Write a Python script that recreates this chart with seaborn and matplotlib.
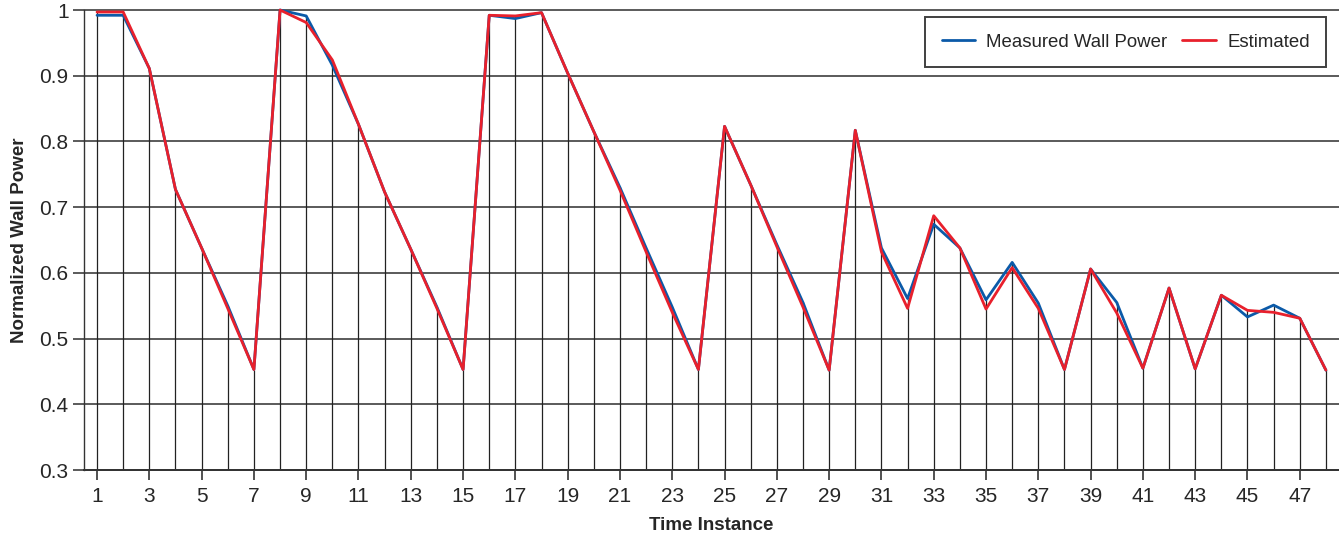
import pandas as pd
import numpy as np
import seaborn as sns
import matplotlib.pyplot as plt
from matplotlib.lines import Line2D

time_instance = list(range(1, 49))
measured = [0.992, 0.992, 0.911, 0.727, 0.638, 0.550, 0.453,
            1.0, 0.991, 0.916, 0.826, 0.723, 0.636, 0.548, 0.453,
            0.992, 0.987, 0.996, 0.904, 0.815, 0.730, 0.638, 0.548, 0.453,
            0.823, 0.734, 0.643, 0.555, 0.452,
            0.817, 0.638, 0.561, 0.674, 0.638, 0.559, 0.616, 0.554, 0.453,
            0.606, 0.555, 0.455, 0.577, 0.454, 0.566, 0.533, 0.551, 0.531, 0.452]
estimated = [0.997, 0.997, 0.911, 0.727, 0.638, 0.546, 0.453,
             1.0, 0.981, 0.924, 0.826, 0.723, 0.636, 0.546, 0.453,
             0.992, 0.991, 0.996, 0.904, 0.815, 0.726, 0.632, 0.540, 0.453,
             0.823, 0.734, 0.640, 0.548, 0.452,
             0.817, 0.632, 0.546, 0.687, 0.638, 0.545, 0.608, 0.546, 0.453,
             0.606, 0.539, 0.455, 0.577, 0.454, 0.566, 0.543, 0.540, 0.531, 0.452]
series_names = ["Measured Wall Power", "Estimated"]
y_ticks = [0.3, 0.4, 0.5, 0.6, 0.7, 0.8, 0.9, 1.0]
y_tick_labels = ["0.3", "0.4", "0.5", "0.6", "0.7", "0.8", "0.9", "1"]

df = pd.DataFrame({
    "t": time_instance * 2,
    "value": measured + estimated,
    "series": [series_names[0]] * 48 + [series_names[1]] * 48,
})

sns.set_style("white")
plt.rcParams['font.family'] = ['Liberation Sans', 'DejaVu Sans']

fig = plt.figure(figsize=(13.39, 5.36), dpi=100)
ax = fig.add_axes([0.0627, 0.123, 0.9373, 0.8583])

# horizontal grid
for yv in y_ticks:
    ax.axhline(yv, color="#5a5a5a", lw=1.4, zorder=1, clip_on=False)

# drop lines from each point down to the bottom
tops = np.maximum(measured, estimated)
ax.vlines(time_instance, 0.3, tops, color="#222222", lw=0.9, zorder=1)

sns.lineplot(data=df, x="t", y="value", hue="series",
             palette={series_names[0]: "#0b5aa8", series_names[1]: "#e8202c"},
             linewidth=2.0, ax=ax, zorder=3, legend=False)
for ln in ax.lines:
    ln.set_clip_on(False)

ax.set_xlim(0.5, 48.5)
ax.set_ylim(0.3, 1.0)
ax.set_xticks(range(1, 48, 2))
ax.set_yticks(y_ticks)
ax.set_yticklabels(y_tick_labels)
ax.tick_params(axis="x", direction="out", length=7, width=1.2, color="#333333",
               labelsize=15, pad=5, bottom=True)
ax.tick_params(axis="y", direction="out", length=8, width=1.4, color="#5a5a5a",
               labelsize=15, pad=3, left=True)
for s in ["top", "right"]:
    ax.spines[s].set_visible(False)
ax.spines["left"].set_color("#333333")
ax.spines["left"].set_linewidth(1.0)
ax.spines["bottom"].set_color("#333333")
ax.spines["bottom"].set_linewidth(1.4)

ax.set_xlabel("Time Instance", fontsize=13.5, fontweight="bold", labelpad=8)
ax.set_ylabel("Normalized Wall Power", fontsize=13.5, fontweight="bold", labelpad=8)

handles = [Line2D([], [], color="#0b5aa8", lw=2.0), Line2D([], [], color="#e8202c", lw=2.0)]
leg = ax.legend(handles, series_names, loc="upper right", ncol=2, fontsize=13.4,
                frameon=True, fancybox=False, bbox_to_anchor=(0.990, 0.985),
                borderaxespad=0, handlelength=1.8, columnspacing=0.8,
                borderpad=0.9, handletextpad=0.6)
leg.get_frame().set_edgecolor("#111111")
leg.get_frame().set_linewidth(1.4)
leg.set_zorder(5)

plt.savefig("out.png", dpi=100)
